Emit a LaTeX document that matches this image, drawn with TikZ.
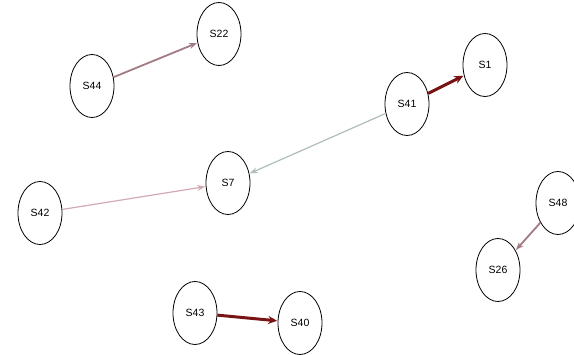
\documentclass[tikz,border=0pt]{standalone}
\usepackage{fontspec}
\setmainfont{Liberation Sans}
\usetikzlibrary{shapes.geometric,arrows.meta}
\definecolor{darkred}{HTML}{7A1414}
\definecolor{mauve}{HTML}{A27A82}
\definecolor{lightpink}{HTML}{D2AAB2}
\definecolor{sage}{HTML}{AEBEB6}
\begin{document}
\begin{tikzpicture}[x=1pt,y=-1pt,
  state/.style={ellipse,draw=black,line width=0.8pt,fill=white,
    minimum width=44pt,minimum height=63pt,inner sep=0pt,
    font=\fontsize{10.5}{12}\selectfont},
  link/.style={-{Stealth[length=8pt,width=6pt]},shorten >=0.5pt},
  heavy/.style={link,draw=darkred,line width=3pt,-{Stealth[length=9pt,width=8pt]}},
  medium/.style={link,draw=mauve,line width=1.8pt},
  thin/.style={link,line width=1.2pt}]
\useasboundingbox (0,0) rectangle (574,355);
\node[state] (S22) at (219,34) {S22};
\node[state] (S44) at (92,86) {S44};
\node[state] (S1) at (485,65) {S1};
\node[state] (S41) at (407,104) {S41};
\node[state] (S7) at (228,183) {S7};
\node[state] (S42) at (40,213) {S42};
\node[state] (S48) at (558,203) {S48};
\node[state] (S26) at (498,270) {S26};
\node[state] (S43) at (195,313) {S43};
\node[state] (S40) at (300,323) {S40};
\draw[medium] (S44) -- (S22);
\draw[heavy] (S41) -- (S1);
\draw[thin,draw=sage] (S41) -- (S7);
\draw[thin,draw=lightpink] (S42) -- (S7);
\draw[medium] (S48) -- (S26);
\draw[heavy] (S43) -- (S40);
\end{tikzpicture}
\end{document}
